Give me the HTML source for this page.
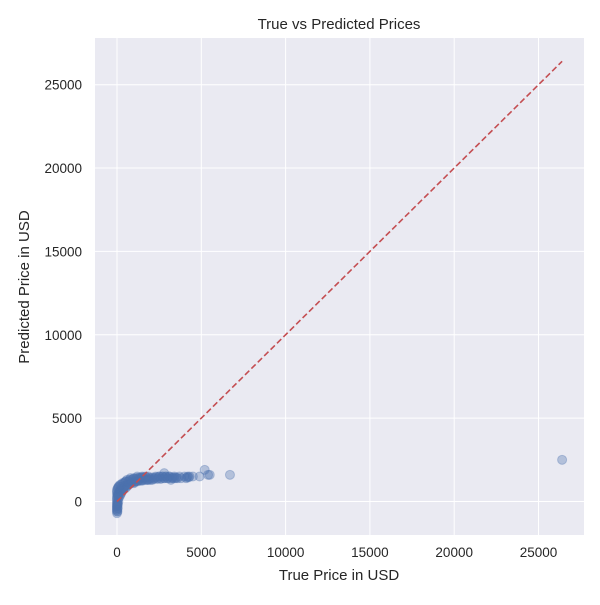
<!DOCTYPE html>
<html><head><meta charset="utf-8"><style>
body{margin:0;background:#fff;}
svg text{font-family:"Liberation Sans",Arial,sans-serif;fill:#262626;}
</style></head><body>
<svg id="chart" width="600" height="600" xmlns="http://www.w3.org/2000/svg">
<rect x="95" y="38" width="489" height="497" fill="#eaeaf2"/>
<g id="grid"></g>
<g id="ticks"></g>
<g id="points"></g>
<g id="refline"></g>
<text x="339" y="29" text-anchor="middle" font-size="15">True vs Predicted Prices</text>
<text x="339" y="580" text-anchor="middle" font-size="15">True Price in USD</text>
<text transform="translate(29,287) rotate(-90)" text-anchor="middle" font-size="15">Predicted Price in USD</text>
</svg>
<script>
const xTicks=[0,5000,10000,15000,20000,25000];
const yTicks=[0,5000,10000,15000,20000,25000];
const trueVals=[0,0,0,0,0,0,0,0,0,0,0,0,30,50,50,80,100,100,150,150,200,200,250,300,300,350,400,400,450,500,500,600,600,700,700,800,800,900,1000,1000,1100,1200,1200,1300,1400,1500,1500,1600,1700,1800,1900,2000,2100,2200,2300,2400,2500,2600,2700,2800,2800,2900,3000,3100,3200,3300,3400,3500,3600,3700,3800,4000,4100,4200,4300,4500,4900,5200,5400,5500,6700,26400,
 50,100,150,200,250,300,350,400,450,500,600,700,800,900,1000,1100,1200,1300,1400,1500,1600,1700,1800,1900,2000,2200,2400,2600,2800,3000,3200,3400,
 60,120,180,240,320,420,520,650,750,850,950,1050,1150,1250,1350,1450,1550,1650,1750,1850,2100,2300,2500,2700,2900,3100,3300,3500,4150,4250,
 0,0,0,0,20,20,40,40,70,90];
const predVals=[-700,-500,-300,-100,100,300,500,700,-600,-400,-200,0,-600,-400,-200,0,200,400,300,600,400,700,500,600,900,700,800,1100,900,800,1200,900,1300,1000,1200,1100,1400,1200,1100,1400,1200,1300,1500,1300,1400,1300,1500,1400,1500,1300,1400,1400,1300,1400,1500,1400,1500,1400,1500,1400,1700,1500,1400,1500,1300,1400,1500,1400,1400,1500,1400,1500,1400,1500,1500,1500,1500,1900,1600,1600,1600,2500,
 400,500,600,650,700,750,800,850,900,950,1000,1050,1100,1150,1150,1200,1200,1250,1250,1250,1300,1300,1300,1300,1300,1350,1350,1350,1400,1400,1400,1400,
 800,900,1000,1000,1100,1100,1200,1200,1300,1300,1350,1350,1400,1400,1450,1450,1450,1450,1450,1500,1450,1450,1500,1500,1500,1500,1450,1450,1450,1450,
 -300,200,600,-500,-200,400,-100,800,300,900];
const lineMin=0, lineMax=26400;
const X=v=>117+v*(421.5/25000);
const Y=v=>501.5-v*(416.8/25000);
const NS='http://www.w3.org/2000/svg';
const grid=document.getElementById('grid'),ticks=document.getElementById('ticks');
xTicks.forEach(t=>{
 const l=document.createElementNS(NS,'line');
 l.setAttribute('x1',X(t));l.setAttribute('x2',X(t));l.setAttribute('y1',38);l.setAttribute('y2',535);
 l.setAttribute('stroke','#fff');l.setAttribute('stroke-width','1');
 
 
 grid.appendChild(l);
 const tx=document.createElementNS(NS,'text');
 tx.setAttribute('x',X(t));tx.setAttribute('y',557);tx.setAttribute('text-anchor','middle');tx.setAttribute('font-size','13.5');
 tx.textContent=t;
 
 
 ticks.appendChild(tx);
});
yTicks.forEach(t=>{
 const l=document.createElementNS(NS,'line');
 l.setAttribute('y1',Y(t));l.setAttribute('y2',Y(t));l.setAttribute('x1',95);l.setAttribute('x2',584);
 l.setAttribute('stroke','#fff');l.setAttribute('stroke-width','1');
 
 
 grid.appendChild(l);
 const tx=document.createElementNS(NS,'text');
 tx.setAttribute('x',82);tx.setAttribute('y',Y(t)+5);tx.setAttribute('text-anchor','end');tx.setAttribute('font-size','13.5');
 tx.textContent=t;
 
 
 ticks.appendChild(tx);
});
const pts=document.getElementById('points');
trueVals.forEach((v,i)=>{
 const c=document.createElementNS(NS,'circle');
 c.setAttribute('cx',X(v));c.setAttribute('cy',Y(predVals[i]));c.setAttribute('r',4.5);
 c.setAttribute('fill','#4c72b0');c.setAttribute('fill-opacity','0.35');
 c.setAttribute('stroke','#4c72b0');c.setAttribute('stroke-opacity','0.35');
 
 
 pts.appendChild(c);
});
const rl=document.createElementNS(NS,'line');
rl.setAttribute('x1',X(lineMin));rl.setAttribute('y1',Y(lineMin));rl.setAttribute('x2',X(lineMax));rl.setAttribute('y2',Y(lineMax));
rl.setAttribute('stroke','#c44e52');rl.setAttribute('stroke-width','1.6');rl.setAttribute('stroke-dasharray','6,3');


document.getElementById('refline').appendChild(rl);
</script>
</body></html>
